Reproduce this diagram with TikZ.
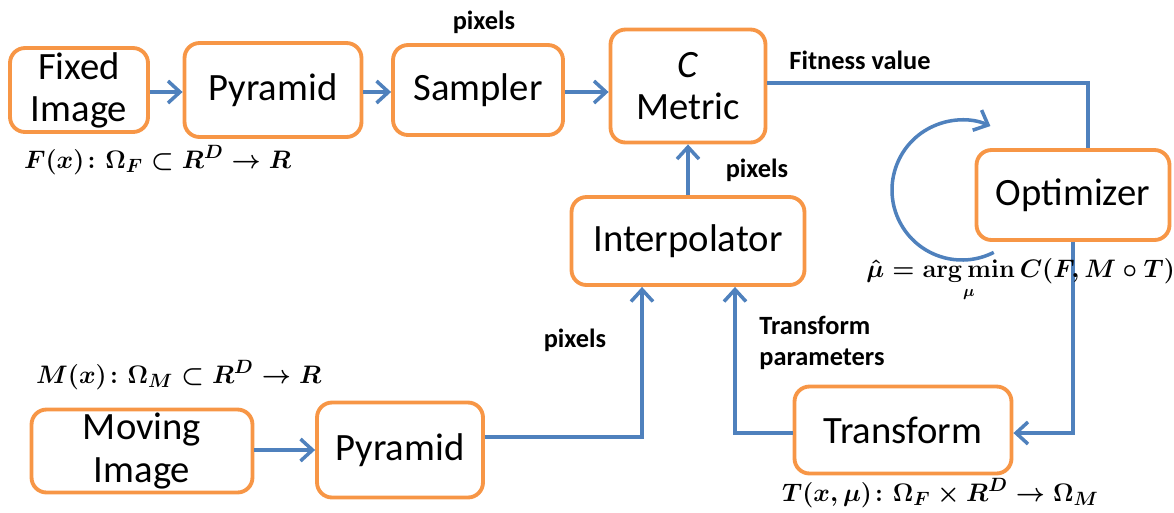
\documentclass[tikz,border=0pt]{standalone}
\usepackage{amsmath}
\usepackage{amssymb}
\usepackage{bm}
\usepackage[no-math]{fontspec}
\setmainfont{Carlito}
\usetikzlibrary{arrows.meta}
\usetikzlibrary{calc}
\definecolor{boxorange}{HTML}{F79646}
\definecolor{flowblue}{HTML}{4F81BD}
\tikzset{
	block/.style={draw=boxorange, line width=2.2pt, rounded corners=0.3cm, align=center,
		font=\fontsize{22}{24}\selectfont, inner sep=0pt},
	flow/.style={draw=flowblue, line width=2pt, -{Straight Barb[length=2.4mm,width=4.4mm]}},
	note/.style={font=\fontsize{15}{18}\selectfont\bfseries, align=left},
	formula/.style={font=\fontsize{15.5}{18}\selectfont\boldmath, anchor=west},
	smallformula/.style={font=\fontsize{13.4}{16}\selectfont\boldmath, anchor=west, inner sep=0pt}
}

\begin{document}
\begin{tikzpicture}[x=0.02cm, y=-0.02cm]
\useasboundingbox (0, 0) rectangle (1174, 512);

% boxes
\node[block, minimum width=2.76cm, minimum height=1.68cm] (fixedimg) at (79, 90) {Fixed\\Image};
\node[block, minimum width=3.54cm, minimum height=1.88cm] (pyramidf) at (273, 90) {Pyramid};
\node[block, minimum width=3.40cm, minimum height=1.80cm] (sampler) at (478, 90) {Sampler};
\node[block, minimum width=3.10cm, minimum height=2.26cm] (metric) at (688, 86) {\textit{C}\\Metric};
\node[block, minimum width=3.86cm, minimum height=1.80cm] (optimizer) at (1073, 195) {Optimizer};
\node[block, minimum width=4.66cm, minimum height=1.76cm] (interp) at (688, 241) {Interpolator};
\node[block, minimum width=4.34cm, minimum height=1.74cm] (transform) at (903, 430) {Transform};
\node[block, minimum width=4.42cm, minimum height=1.66cm] (movingimg) at (142, 451) {Moving\\Image};
\node[block, minimum width=3.32cm, minimum height=1.90cm] (pyramidm) at (400, 450) {Pyramid};

% fixed image chain
\draw[flow] (fixedimg.east |- 0, 92) -- (pyramidf.west |- 0, 92);
\draw[flow] (pyramidf.east |- 0, 92) -- (sampler.west |- 0, 92);
\draw[flow] (sampler.east |- 0, 92) -- (metric.west |- 0, 92);

% fitness value to optimizer
\draw[flow, -] (metric.east |- 0, 83) -| ($(optimizer.north) + (15, 0)$);
\draw[flow] (optimizer.south) |- (transform.east |- 0, 433);
\draw[flow] (transform.west |- 0, 433) -| ($(interp.south) + (47, 0)$);
\draw[flow] (interp.north) -- (metric.south);

% moving image chain
\draw[flow] (movingimg.east |- 0, 450) -- (pyramidm.west |- 0, 450);
\draw[flow] (pyramidm.east |- 0, 437) -| ($(interp.south) + (-46, 0)$);

% optimizer loop
\draw[flow] ($(962, 190) + (-63:1.4cm)$) arc[start angle=-63, end angle=-294, radius=1.4cm];

% labels
\node[note] (pxsampler) at (484, 22) {pixels};
\node[note] (fitness) at (860, 60) {Fitness value};
\node[note] (pxinterp) at (757, 170) {pixels};
\node[note] (pxmoving) at (575, 340) {pixels};
\node[note] (params) at (822, 343) {Transform\\parameters};

\node[formula] (fdomain) at (18, 160) {$F(x)\colon \Omega_F \subset R^D \rightarrow R$};
\node[formula] (mdomain) at (30, 375) {$M(x)\colon \Omega_M \subset R^D \rightarrow R$};
\node[smallformula] (argmin) at (866, 280)
	{$\bm{\hat{\mu}} = \mathop{\mathbf{arg\,min}}\limits_{\bm{\mu}} \bm{C(F,M \circ T)}$};
\node[formula] (tdomain) at (776, 493) {$T(x,\mu)\colon \Omega_F \times R^D \rightarrow \Omega_M$};
\end{tikzpicture}
\end{document}
